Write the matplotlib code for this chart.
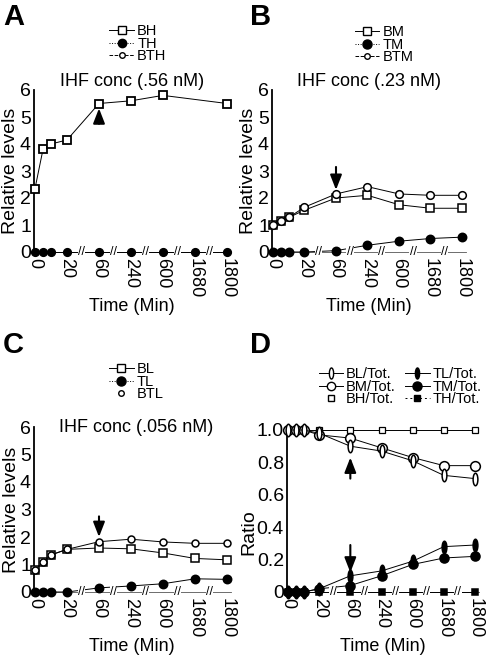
import numpy as np
import matplotlib
matplotlib.use('Agg')
import matplotlib.pyplot as plt
from matplotlib.lines import Line2D
from matplotlib.path import Path
from matplotlib.transforms import Affine2D

plt.rcParams['font.family'] = ['Liberation Sans', 'DejaVu Sans']

W, H = 489, 658

# time points (min) and the labelled ones on the broken axis
times = [0, 5, 10, 20, 60, 240, 600, 1680, 1800]
tick_times = [0, 20, 60, 240, 600, 1680, 1800]
late_times = [20, 60, 240, 600, 1680, 1800]

# panel A  (IHF .56 nM)
bh_times = [0, 5, 10, 20, 60, 240, 600, 1800]
bh = [2.35, 3.8, 4.0, 4.15, 5.5, 5.6, 5.8, 5.5]
th = [0, 0, 0, 0, 0, 0, 0, 0, 0]

# panel B  (IHF .23 nM)
bm = [1.0, 1.13, 1.28, 1.55, 2.0, 2.1, 1.75, 1.62, 1.62]
btm = [1.0, 1.13, 1.28, 1.66, 2.15, 2.42, 2.15, 2.1, 2.1]
tm = [0, 0, 0, 0, 0.05, 0.25, 0.4, 0.5, 0.55]

# panel C  (IHF .056 nM)
bl = [0.8, 1.1, 1.35, 1.55, 1.6, 1.57, 1.42, 1.22, 1.17]
btl = [0.8, 1.1, 1.35, 1.55, 1.83, 1.92, 1.82, 1.77, 1.77]
tl = [0, 0, 0, 0, 0.15, 0.22, 0.3, 0.48, 0.46]

# panel D  (ratios)
bl_tot = [1.0, 1.0, 1.0, 0.98, 0.9, 0.87, 0.81, 0.72, 0.7]
bm_tot = [1.0, 1.0, 1.0, 0.97, 0.95, 0.89, 0.83, 0.78, 0.78]
bh_tot = [1.0, 1.0, 1.0, 1.0, 1.0, 1.0, 1.0, 1.0, 1.0]
tl_tot = [0, 0, 0, 0.02, 0.1, 0.13, 0.19, 0.28, 0.29]
tm_tot = [0, 0, 0, 0.02, 0.04, 0.1, 0.17, 0.21, 0.22]
th_tot = [0, 0, 0, 0, 0, 0, 0, 0, 0]


def tpos(t):
    if t <= 20:
        return t / 20.0
    return 1 + late_times.index(t)


def xs(tt):
    return [tpos(t) for t in tt]


ellipse = Path.unit_circle().transformed(Affine2D().scale(0.38, 1.0))

fig = plt.figure(figsize=(W / 100, H / 100), dpi=100)


def make_axes(px0, px6, py0, pytop, ytop):
    xlim = (-0.04, 6.12)
    sx = (px6 - px0) / 6.0
    left = px0 + xlim[0] * sx
    right = px0 + xlim[1] * sx
    ax = fig.add_axes([left / W, 1 - py0 / H, (right - left) / W, (py0 - pytop) / H])
    ax.set_xlim(*xlim)
    ax.set_ylim(0, ytop)
    if ytop == 6:
        ax.set_yticks(range(7))
    ax.spines['top'].set_visible(False)
    ax.spines['right'].set_visible(False)
    ax.spines['left'].set_linewidth(1.3)
    ax.spines['bottom'].set_linewidth(0.6)
    ax.spines['bottom'].set_color('#555555')
    ax.set_xticks(xs(tick_times))
    ax.set_xticklabels([str(t) for t in tick_times], rotation=-90, fontsize=13)
    ax.tick_params(axis='x', length=0, pad=4)
    ax.tick_params(axis='y', length=0, pad=2, labelsize=14)
    ax.set_xlabel('Time (Min)', fontsize=13, labelpad=0)
    for a, b in zip(late_times[:-1], late_times[1:]):
        ax.text((tpos(a) + tpos(b)) / 2 - 0.05, 0, '//', fontsize=9, ha='center', va='center',
                bbox=dict(facecolor='white', edgecolor='none', pad=0.2), zorder=5, clip_on=False)
    return ax


def series(ax, tt, vals, marker, fill, ms, mew=1.1, z=3):
    ax.plot(xs(tt), vals, color='black', lw=0.7, marker=marker, ms=ms,
            mfc='black' if fill else 'white', mec='black', mew=mew, clip_on=False, zorder=z)


def arrow(ax, t, y_from, y_to):
    ax.annotate('', xy=(tpos(t), y_to), xytext=(tpos(t), y_from),
                arrowprops=dict(arrowstyle='-|>,head_length=0.9,head_width=0.35',
                                color='black', lw=1.5, shrinkA=0, shrinkB=0), zorder=6)


def handle(marker, fill, ms, ls, mew=1.0):
    return Line2D([], [], color='black', lw=0.7, ls=ls, marker=marker, ms=ms,
                  mfc='black' if fill else 'white', mec='black', mew=mew)


def legend(ax, handles, labels, cx, top, ncol=1, fs=10.5):
    ax.legend(handles, labels, loc='upper center', bbox_to_anchor=(cx / W, 1 - top / H),
              bbox_transform=fig.transFigure, frameon=False, fontsize=fs, ncol=ncol,
              handlelength=1.7, handletextpad=0.2, labelspacing=-0.1, borderpad=0,
              columnspacing=0.6)


# ---- A
axA = make_axes(35, 227, 252, 90, 6)
series(axA, times, th, 'o', True, 5.5)
series(axA, bh_times, bh, 's', False, 5.5, 1.3, 4)
axA.set_ylabel('Relative levels', fontsize=14, labelpad=1)
axA.set_title('IHF conc (.56 nM)', fontsize=13, pad=1)
arrow(axA, 60, 4.75, 5.32)
legend(axA, [handle('s', False, 5.5, '-'), handle('o', True, 6, ':'), handle('o', False, 4, '--')],
       ['BH', 'TH', 'BTH'], 138, 17)

# ---- B
axB = make_axes(273, 462, 252, 90, 6)
series(axB, times, tm, 'o', True, 6)
series(axB, times, bm, 's', False, 6)
series(axB, times, btm, 'o', False, 5.5)
axB.set_ylabel('Relative levels', fontsize=14, labelpad=1)
axB.set_title('IHF conc (.23 nM)', fontsize=13, pad=1)
arrow(axB, 60, 3.15, 2.3)
legend(axB, [handle('s', False, 6, '-'), handle('o', True, 6.5, ':'), handle('o', False, 4, '--')],
       ['BM', 'TM', 'BTM'], 384, 18)

# ---- C
axC = make_axes(35, 227, 592, 427, 6)
series(axC, times, tl, 'o', True, 6)
series(axC, times, bl, 's', False, 5.5)
series(axC, times, btl, 'o', False, 5)
axC.set_ylabel('Relative levels', fontsize=14, labelpad=0)
axC.text(0.52, 1.0, 'IHF conc (.056 nM)', transform=axC.transAxes, fontsize=13,
         ha='center', va='center')
arrow(axC, 60, 2.75, 2.0)
legend(axC, [handle('s', False, 5.5, '-'), handle('o', True, 6.5, ':'), handle('o', False, 4, 'none')],
       ['BL', 'TL', 'BTL'], 136, 355)

# ---- D
axD = make_axes(288, 475, 592, 430, 1.0)
axD.set_yticks([0, 0.2, 0.4, 0.6, 0.8, 1.0])
axD.set_yticklabels(['0', '0.2', '0.4', '0.6', '0.8', '1.0'])
series(axD, times, th_tot, 's', True, 5)
series(axD, times, tm_tot, 'o', True, 6.5)
series(axD, times, tl_tot, ellipse, True, 9)
series(axD, times, bh_tot, 's', False, 5, 0.9)
series(axD, times, bm_tot, 'o', False, 7)
series(axD, times, bl_tot, ellipse, False, 9)
axD.set_ylabel('Ratio', fontsize=14, labelpad=1)
axD.yaxis.set_label_coords(-0.155, 0.37)
arrow(axD, 60, 0.7, 0.83)
arrow(axD, 60, 0.29, 0.12)
legend(axD,
       [handle(ellipse, False, 8, '-'), handle('o', False, 6, '-'), handle('s', False, 4.5, 'none'),
        handle(ellipse, True, 8, '-'), handle('o', True, 6.5, '-'), handle('s', True, 4.5, (0, (2, 3)))],
       ['BL/Tot.', 'BM/Tot.', 'BH/Tot.', 'TL/Tot.', 'TM/Tot.', 'TH/Tot.'], 400, 360, ncol=2, fs=10.5)

for letter, x, y in [('A', 3, 3), ('B', 250, 3), ('C', 3, 331), ('D', 250, 331)]:
    fig.text(x / W, 1 - y / H, letter, fontsize=21, fontweight='bold', va='top', ha='left')

fig.savefig('out.png', dpi=100)
